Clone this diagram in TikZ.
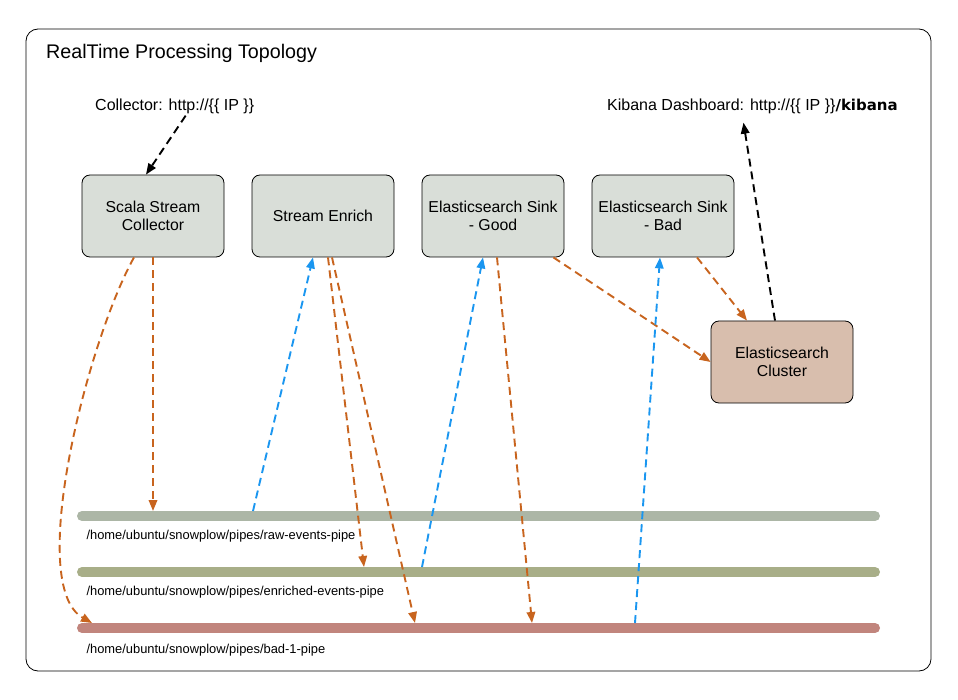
\documentclass[tikz,border=0pt]{standalone}
\usepackage{fontspec}
\setmainfont{Liberation Sans}
\newfontfamily\kibanafont{DejaVu Sans}
\usepackage{xcolor}
\usepackage{tikz}
\usetikzlibrary{shapes,arrows,arrows.meta,positioning,calc}

\definecolor{boxgray}{HTML}{D9DED8}
\definecolor{clustertan}{HTML}{D8BEAD}
\definecolor{floworange}{HTML}{C8641E}
\definecolor{flowblue}{HTML}{1A96F0}
\definecolor{rawpipe}{HTML}{ACB6A6}
\definecolor{enrpipe}{HTML}{A8AE88}
\definecolor{badpipe}{HTML}{C1857D}

\begin{document}
\begin{tikzpicture}[x=1pt, y=-1pt, node distance=27.2pt,
    box/.style={rectangle, draw, line width=0.8pt, rounded corners=8pt, fill=boxgray,
                minimum width=142pt, minimum height=82pt, align=center,
                font=\fontsize{15.8}{18.3}\selectfont},
    urltext/.style={anchor=west, inner sep=2pt, font=\fontsize{16}{19}\selectfont},
    pipename/.style={anchor=west, font=\fontsize{12.9}{15}\selectfont},
    pipe/.style={line width=10pt, line cap=round},
    flow/.style={dashed, dash pattern=on 8pt off 5pt, line width=1.9pt,
                 -{Triangle[length=11pt, width=8.5pt]}}]

\useasboundingbox (0,0) rectangle (958,700);
\draw[line width=0.8pt, rounded corners=12pt] (26,29) rectangle (931,671);
\node[anchor=base west, inner sep=0pt, font=\fontsize{19.7}{23}\selectfont] (title) at (46,59)
     {RealTime Processing Topology};

% services
\node[box] (collector) at (153,216) {Scala Stream\\Collector};
\node[box, right=of collector] (enrich) {Stream Enrich};
\node[box, right=of enrich] (sinkgood) {Elasticsearch Sink\\- Good};
\node[box, right=of sinkgood] (sinkbad) {Elasticsearch Sink\\- Bad};
\node[box, fill=clustertan, below right=63.2pt and -23.8pt of sinkbad] (cluster) {Elasticsearch\\Cluster};

\node[urltext] (collectorurl) at (93,106) {Collector: http://\{\{ IP \}\}};
\node[urltext] (kibanaurl) at (605,106) {Kibana Dashboard: http://\{\{ IP \}\}{\kibanafont\bfseries\fontsize{15}{18}\selectfont/kibana}};

% pipes
\draw[pipe, rawpipe] (82,516) -- (875,516);
\draw[pipe, enrpipe] (82,572) -- (875,572);
\draw[pipe, badpipe] (82,628) -- (875,628);
\node[pipename] (rawname) at (83,536) {/home/ubuntu/snowplow/pipes/raw-events-pipe};
\node[pipename] (enrname) at (83,592) {/home/ubuntu/snowplow/pipes/enriched-events-pipe};
\node[pipename] (badname) at (83,650) {/home/ubuntu/snowplow/pipes/bad-1-pipe};

\coordinate (rawin) at (153,511);
\coordinate (rawout) at (253,511);
\coordinate (enrin) at (364,567);
\coordinate (enrout) at (422,567);
\coordinate (badin1) at (92,623);
\coordinate (badin2) at (415,623);
\coordinate (badin3) at (532,623);
\coordinate (badout) at (635,623);

% flows
\draw[flow, black] ([xshift=11pt]collectorurl.south) -- ([xshift=-7pt]collector.north);
\draw[flow, floworange] (collector.south) -- (rawin);
\draw[flow, floworange] ([xshift=-19pt]collector.south) .. controls (88,340) and (25,585) .. (badin1);
\draw[flow, flowblue] (rawout) -- ([xshift=-10pt]enrich.south);
\draw[flow, floworange] ([xshift=5pt]enrich.south) -- (enrin);
\draw[flow, floworange] ([xshift=9pt]enrich.south) -- (badin2);
\draw[flow, flowblue] (enrout) -- ([xshift=-10pt]sinkgood.south);
\draw[flow, floworange] ([xshift=4pt]sinkgood.south) -- (badin3);
\draw[flow, floworange] ([xshift=-11pt]sinkgood.south east) -- (cluster.west);
\draw[flow, flowblue] (badout) -- ([xshift=-3pt]sinkbad.south);
\draw[flow, floworange] ([xshift=34pt]sinkbad.south) -- ([xshift=-35pt]cluster.north);
\draw[flow, black] ([xshift=-7pt]cluster.north) -- ([xshift=-9pt,yshift=-7pt]kibanaurl.south);

\end{tikzpicture}
\end{document}
